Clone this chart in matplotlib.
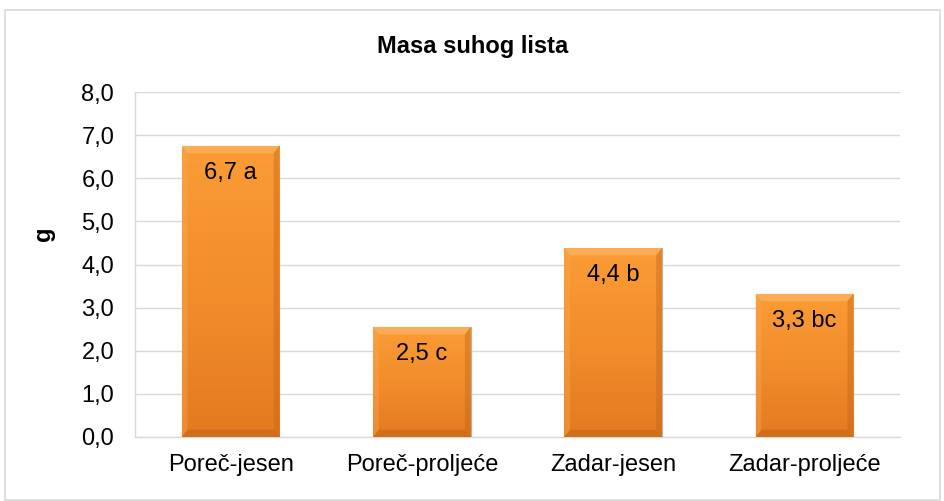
import matplotlib
matplotlib.use("Agg")
import matplotlib.pyplot as plt
import numpy as np
from matplotlib.patches import Rectangle, Polygon
from matplotlib.colors import LinearSegmentedColormap

categories = ["Poreč-jesen", "Poreč-proljeće", "Zadar-jesen", "Zadar-proljeće"]
values = [6.75, 2.55, 4.38, 3.32]
labels = ["6,7 a", "2,5 c", "4,4 b", "3,3 bc"]
yticks = [0, 1, 2, 3, 4, 5, 6, 7, 8]

plt.rcParams['font.family'] = ['Liberation Sans', 'DejaVu Sans']
FS = 17

fig = plt.figure(figsize=(9.45, 5.01), dpi=100)
fig.patches.append(Rectangle((5/945, 1-500/501), 935/945, 490/501, transform=fig.transFigure,
                             fill=False, edgecolor='#D9D9D9', linewidth=1.2))
ax = fig.add_axes([135/945, 1-437/501, 765/945, 345/501])

x = np.arange(len(categories))
bars = ax.bar(x, values, width=0.51, color='#F28C28', edgecolor='#B9B0A8', linewidth=0.8, zorder=3)

grad = np.linspace(0, 1, 256).reshape(-1, 1)
cmap = LinearSegmentedColormap.from_list('o', ['#E47A20', '#F28D2C', '#FA9C36'])
for b in bars:
    x0, y0 = b.get_x(), b.get_y()
    w, h = b.get_width(), b.get_height()
    im = ax.imshow(grad, extent=[x0, x0 + w, y0, y0 + h], origin='lower', aspect='auto',
                   cmap=cmap, zorder=3.5)
    im.set_clip_path(b)
    dx, dy = 0.03, 0.17
    top = y0 + h
    ax.add_patch(Polygon([(x0, top), (x0 + w, top), (x0 + w - dx, top - dy), (x0 + dx, top - dy)],
                         closed=True, facecolor='#FDB868', edgecolor='none', alpha=0.65, zorder=3.6))
    ax.add_patch(Polygon([(x0, top), (x0 + dx, top - dy), (x0 + dx, y0 + dy), (x0, y0)],
                         closed=True, facecolor='#F8A855', edgecolor='none', alpha=0.4, zorder=3.6))
    ax.add_patch(Polygon([(x0 + w, top), (x0 + w - dx, top - dy), (x0 + w - dx, y0 + dy), (x0 + w, y0)],
                         closed=True, facecolor='#C4621A', edgecolor='none', alpha=0.4, zorder=3.6))
    ax.add_patch(Polygon([(x0, y0), (x0 + dx, y0 + dy), (x0 + w - dx, y0 + dy), (x0 + w, y0)],
                         closed=True, facecolor='#B85A15', edgecolor='none', alpha=0.4, zorder=3.6))

for xi, v, lab in zip(x, values, labels):
    ax.text(xi, v - 0.62, lab, ha='center', va='center', fontsize=FS, color='black', zorder=5)

ax.set_xlim(-0.5, len(categories) - 0.5)
ax.set_ylim(0, 8)
ax.set_yticks(yticks)
ax.set_yticklabels([f"{t:.1f}".replace('.', ',') for t in yticks], fontsize=FS)
ax.set_xticks(x)
ax.set_xticklabels(categories, fontsize=FS)
ax.tick_params(axis='y', length=0, pad=15)
ax.tick_params(axis='x', length=0, pad=12)
ax.grid(axis='y', color='#D9D9D9', linewidth=1.0, zorder=0)
for s in ['top', 'right']:
    ax.spines[s].set_visible(False)
ax.spines['left'].set_color('#D9D9D9')
ax.spines['bottom'].set_color('#D9D9D9')
ax.spines['left'].set_linewidth(1.0)
ax.spines['bottom'].set_linewidth(1.0)

ax.set_ylabel('g', fontsize=FS, fontweight='bold')
ax.yaxis.set_label_coords(-80/765, 0.59)
fig.text(0.5, 1 - 46/501, 'Masa suhog lista', ha='center', va='center', fontsize=FS, fontweight='bold')

fig.savefig('out.png', dpi=100)
